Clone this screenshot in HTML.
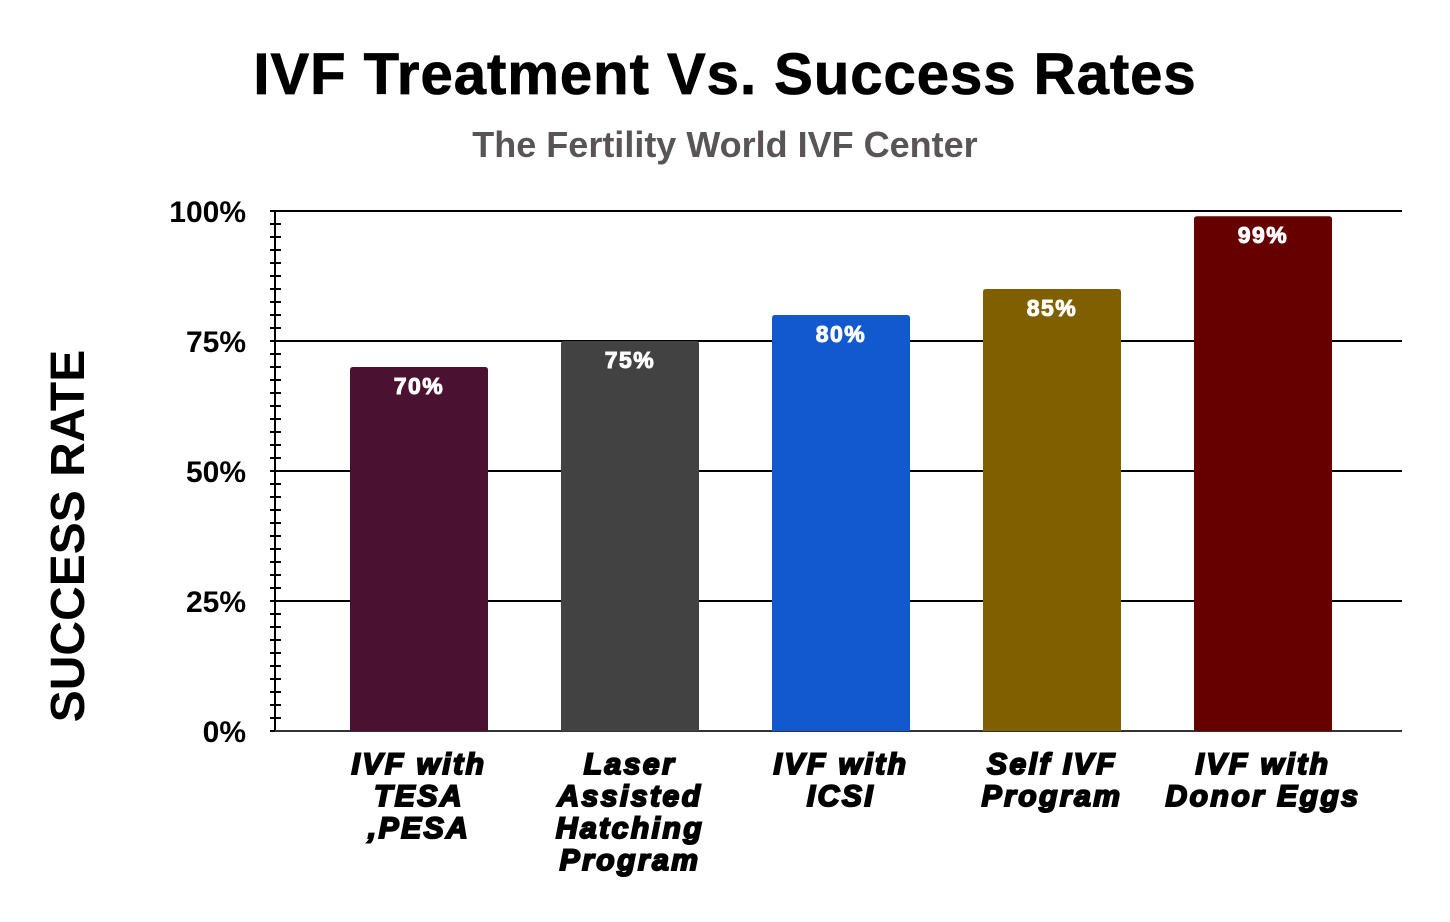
<!DOCTYPE html>
<html><head><meta charset="utf-8">
<style>
html,body{margin:0;padding:0;background:#fff;width:1450px;height:922px;overflow:hidden}
svg text{font-family:"Liberation Sans",Arial,sans-serif}
</style></head>
<body>
<svg id="chart" width="1450" height="922" viewBox="0 0 1450 922" xmlns="http://www.w3.org/2000/svg">
<text x="725" y="94" text-anchor="middle" font-size="58" font-weight="bold" letter-spacing="1" fill="#000" stroke="#000" stroke-width="0.8">IVF Treatment Vs. Success Rates</text>
<text x="725" y="157" text-anchor="middle" font-size="36" font-weight="bold" fill="#595555">The Fertility World IVF Center</text>
<text transform="translate(84,536) rotate(-90)" text-anchor="middle" font-size="48" font-weight="bold" fill="#000">SUCCESS RATE</text>
<g id="grid"></g><g id="bars"></g><g id="labels"></g>
</svg>
<script>
const categories=[["IVF with","TESA",",PESA"],["Laser","Assisted","Hatching","Program"],["IVF with","ICSI"],["Self IVF","Program"],["IVF with","Donor Eggs"]];
const values=[70,75,80,85,99];
const colors=["#4a1230","#424242","#1259cf","#7f5f00","#660000"];
const yTicks=[0,25,50,75,100];
const yTickLabels=["0%","25%","50%","75%","100%"];
const NS="http://www.w3.org/2000/svg";
const x0=275,x1=1402,yTop=211,yBot=731;
const y=v=>yBot-(v/100)*(yBot-yTop);
const firstC=419,step=211;
const xc=i=>firstC+step*i;
const bw=138;
function mk(tag,attrs,parent){const e=document.createElementNS(NS,tag);for(const k in attrs)e.setAttribute(k,attrs[k]);parent.appendChild(e);return e;}
const grid=document.getElementById('grid'),bars=document.getElementById('bars'),labels=document.getElementById('labels');
yTicks.forEach((t,i)=>{
  const l=mk('line',{x1:x0,x2:x1,y1:y(t),y2:y(t),stroke:'#000','stroke-width':2},grid);
  
  
  const tx=mk('text',{x:246,y:y(t)+11,'text-anchor':'end','font-size':30,'font-weight':'bold',fill:'#000'},grid);
  tx.textContent=yTickLabels[i];
  
  
});
for(let v=0;v<=100;v+=2.5){
  const m=mk('line',{x1:270,x2:281,y1:y(v),y2:y(v),stroke:'#000','stroke-width':2},grid);
  
  
}
const ax=mk('line',{x1:x0,x2:x0,y1:yTop,y2:yBot,stroke:'#000','stroke-width':2},grid);


values.forEach((v,i)=>{
  const cx=xc(i);
  const r=mk('path',{d:`M${cx-bw/2},${yBot} V${y(v)+3} Q${cx-bw/2},${y(v)} ${cx-bw/2+3},${y(v)} H${cx+bw/2-3} Q${cx+bw/2},${y(v)} ${cx+bw/2},${y(v)+3} V${yBot} Z`,fill:colors[i]},bars);
  
  
  const t=mk('text',{x:cx,y:y(v)+27,'text-anchor':'middle','font-size':23,'font-weight':'bold','letter-spacing':1.5,fill:'#fff',stroke:'#fff','stroke-width':1},labels);
  t.textContent=v+'%';
  
  
  categories[i].forEach((line,j)=>{
    const c=mk('text',{x:cx,y:774+j*32,'text-anchor':'middle','font-size':30,'font-weight':'bold','font-style':'italic','letter-spacing':2.5,fill:'#000',stroke:'#000','stroke-width':2},labels);
    c.textContent=line;
    
    
  });
});
const bl=mk('line',{x1:x0,x2:x1,y1:yBot,y2:yBot,stroke:'#333','stroke-width':2},grid);


</script>
</body></html>
